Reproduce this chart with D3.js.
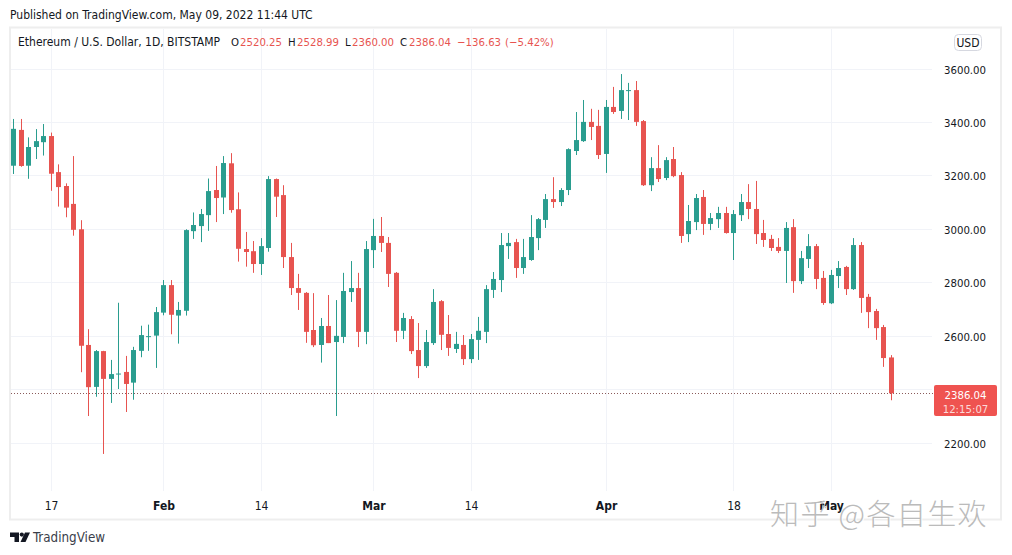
<!DOCTYPE html>
<html>
<head>
<meta charset="utf-8">
<title>ETHUSD</title>
<script src="https://cdn.jsdelivr.net/npm/d3@7"></script>
<style>
  html, body { margin: 0; padding: 0; background: #fff; }
  svg { display: block; }
  text { font-family: "DejaVu Sans Condensed", "DejaVu Sans", sans-serif; font-stretch: condensed; }
</style>
</head>
<body>
<svg id="chart" width="1012" height="555"></svg>
<script>
// Daily candles, 12 Jan 2022 to 9 May 2022
const opens = [3238,3372,3238,3308,3326,3349,3214,3162,3095,3000,2567,2410,2544,2440,2458,2466,2426,2545,2597,2602,
  2688,2791,2677,2695,2993,3012,3053,3147,3119,3247,3075,2926,2918,2870,2930,3188,3128,2896,2780,2762,
  2623,2567,2638,2578,2597,2765,2780,2616,2922,2975,2949,2837,2620,2664,2548,2488,2574,2731,2608,2552,
  2567,2514,2586,2616,2773,2810,2937,2952,2855,2885,2967,3035,3113,3102,3147,3293,3330,3402,3387,3282,
  3458,3443,3518,3521,3405,3165,3229,3192,3263,3203,2982,3027,3121,3020,3038,3061,2986,3053,3102,3076,
  2986,2964,2934,2919,3008,2806,2889,2937,2818,2723,2825,2859,2776,2941,2747,2694,2634,2520.25];
const highs = [3413,3413,3344,3375,3394,3362,3243,3172,3274,3034,2626,2548,2545,2511,2725,2526,2560,2639,2643,2709,
  2810,2810,2728,3000,3063,3076,3190,3237,3274,3285,3138,2990,2956,2967,3199,3190,3165,2949,2833,2765,
  2761,2668,2754,2735,2837,2881,2837,2956,3039,3046,2971,2840,2687,2675,2649,2623,2776,2735,2679,2616,
  2604,2608,2672,2791,2840,2986,2986,2964,2964,3053,3042,3132,3195,3154,3303,3439,3484,3451,3447,3484,
  3533,3581,3548,3555,3409,3270,3315,3270,3308,3214,3091,3132,3147,3061,3084,3084,3072,3132,3169,3181,
  3035,2979,2967,3027,3038,2919,2982,2945,2844,2848,2881,2863,2967,2952,2758,2702,2642,2528.99];
const lows = [3207,3234,3189,3263,3276,3144,3085,3045,2976,2465,2301,2373,2159,2350,2402,2316,2362,2521,2545,2481,
  2678,2607,2572,2677,2964,2952,2994,3027,3057,3062,2879,2860,2837,2829,2916,3046,2855,2754,2698,2575,
  2559,2501,2574,2301,2574,2728,2559,2570,2855,2915,2784,2578,2589,2533,2443,2481,2567,2548,2526,2537,
  2492,2499,2511,2574,2743,2765,2889,2818,2833,2882,2922,3005,3080,3087,3128,3278,3327,3334,3263,3211,
  3432,3413,3409,3387,3162,3143,3177,3184,3195,2949,2952,2997,2979,2997,3005,2984,2885,3031,3038,2945,
  2934,2919,2911,2799,2762,2795,2855,2776,2717,2720,2780,2754,2773,2687,2630,2586,2485,2360];
const closes = [3376,3237,3308,3330,3349,3208,3158,3081,2998,2564,2409,2544,2440,2458,2460,2421,2548,2604,2600,2690,
  2791,2680,2698,2997,3016,3057,3143,3117,3248,3072,2927,2915,2870,2937,3188,3122,2896,2780,2762,2616,
  2566,2638,2574,2601,2769,2780,2616,2926,2975,2949,2833,2620,2668,2544,2488,2578,2728,2605,2556,2571,
  2514,2589,2620,2776,2814,2941,2949,2855,2896,2971,3038,3113,3102,3147,3300,3334,3402,3383,3278,3458,
  3439,3521,3521,3402,3165,3229,3188,3259,3199,2975,3031,3117,3020,3042,3061,2986,3057,3102,3076,2982,
  2960,2930,2919,3005,2806,2892,2937,2814,2724,2829,2855,2776,2941,2743,2690,2630,2518,2386.04];

const priceTicks = [2200, 2400, 2600, 2800, 3000, 3200, 3400, 3600];
const hiddenPriceLabel = 2400; // sits under the last price tag
const timeTicks = ['2022-01-17', '2022-02-01', '2022-02-14', '2022-03-01', '2022-03-14', '2022-04-01', '2022-04-18', '2022-05-01'];
const timeLabels = ['17', 'Feb', '14', 'Mar', '14', 'Apr', '18', 'May'];
const monthLabels = ['Feb', 'Mar', 'Apr', 'May'];

const legendParts = ['O', '2520.25', 'H', '2528.99', 'L', '2360.00', 'C', '2386.04', '−136.63', '(−5.42%)'];

const up = '#2a9d8f', down = '#e75450', tagColor = '#ef5350', gridColor = '#f1f3f8', frameColor = '#eeeeee', ink = '#131722';

const svg = d3.select('#chart');
const parseDay = d3.utcParse('%Y-%m-%d');
const days = d3.utcDay.range(parseDay('2022-01-12'), parseDay('2022-05-10'));

const x = d3.scaleUtc().domain([days[0], days[days.length - 1]]).range([13.5, 891]);
const y = d3.scaleLinear().domain([2200, 3600]).range([443, 69]);
const px = v => Math.round(v - 0.5) + 0.5;

// Frame
svg.append('rect').attr('x', 10).attr('y', 27.5).attr('width', 991).attr('height', 492)
  .attr('fill', 'none').attr('stroke', frameColor).attr('stroke-width', 2);

// Grid
const grid = svg.append('g');
grid.selectAll('.h').data(priceTicks).enter().append('line')
  .attr('x1', 11).attr('x2', 932)
  .attr('y1', d => px(y(d))).attr('y2', d => px(y(d)))
  .attr('stroke', gridColor);
grid.selectAll('.v').data(timeTicks).enter().append('line')
  .attr('x1', d => px(x(parseDay(d)))).attr('x2', d => px(x(parseDay(d))))
  .attr('y1', 29).attr('y2', 491)
  .attr('stroke', gridColor);

// Last price line
const lastY = px(y(closes[closes.length - 1]));
svg.append('line').attr('x1', 11).attr('x2', 934)
  .attr('y1', lastY).attr('y2', lastY)
  .attr('stroke', '#8a5a5a').attr('stroke-dasharray', '1,2');

// Candles
const candles = svg.append('g').selectAll('g').data(days).enter().append('g');
candles.append('line')
  .attr('x1', d => px(x(d))).attr('x2', d => px(x(d)))
  .attr('y1', (d, i) => y(highs[i])).attr('y2', (d, i) => y(lows[i]))
  .attr('stroke', (d, i) => closes[i] >= opens[i] ? up : down);
candles.append('rect')
  .attr('x', d => px(x(d)) - 2.5).attr('width', 5)
  .attr('y', (d, i) => y(Math.max(opens[i], closes[i])))
  .attr('height', (d, i) => Math.max(1, Math.abs(y(opens[i]) - y(closes[i]))))
  .attr('fill', (d, i) => closes[i] >= opens[i] ? up : down);

// Price axis
const yAxis = svg.append('g').attr('transform', 'translate(965,0.5)')
  .call(d3.axisRight(y).tickValues(priceTicks.filter(d => d !== hiddenPriceLabel))
    .tickFormat(d => d.toFixed(2)).tickSize(0).tickPadding(0));
yAxis.select('.domain').remove();
yAxis.selectAll('text').attr('text-anchor', 'middle').attr('fill', ink)
  .style('font-size', '11.3px').style('font-family', '"DejaVu Sans Condensed", "DejaVu Sans", sans-serif');

// Time axis
const xAxis = svg.append('g').attr('transform', 'translate(0,491)')
  .call(d3.axisBottom(x).tickValues(timeTicks.map(parseDay))
    .tickFormat((d, i) => timeLabels[i]).tickSize(0).tickPadding(10));
xAxis.select('.domain').remove();
xAxis.selectAll('text').attr('fill', ink)
  .style('font-size', '12px').style('font-family', '"DejaVu Sans Condensed", "DejaVu Sans", sans-serif')
  .style('font-weight', (d, i) => monthLabels.includes(timeLabels[i]) ? 'bold' : 'normal');

// Last price tag
svg.append('rect').attr('x', 934).attr('y', 385).attr('width', 63).attr('height', 31).attr('rx', 2).attr('fill', tagColor);
svg.append('text').attr('x', 965.5).attr('y', 398.5).attr('text-anchor', 'middle')
  .attr('fill', '#fff').attr('font-size', 11.3).text(closes[closes.length - 1].toFixed(2));
svg.append('text').attr('x', 965.5).attr('y', 412.5).attr('text-anchor', 'middle')
  .attr('fill', '#fff').attr('fill-opacity', 0.8).attr('font-size', 11.3).text('12:15:07');

// Header text
svg.append('text').attr('x', 10).attr('y', 19).attr('fill', ink).attr('font-size', 12)
  .text('Published on TradingView.com, May 09, 2022 11:44 UTC');
svg.append('text').attr('x', 18).attr('y', 46).attr('fill', ink).attr('font-size', 12)
  .text('Ethereum / U.S. Dollar, 1D, BITSTAMP');
const legendX = [231, 240, 288, 297, 345, 352, 400, 409, 457, 505];
svg.selectAll('.legend').data(legendParts).enter().append('text')
  .attr('x', (d, i) => legendX[i]).attr('y', 46).attr('font-size', 11.3)
  .attr('fill', (d, i) => d.length === 1 ? ink : down)
  .text(d => d);

// USD button
svg.append('rect').attr('x', 954.5).attr('y', 34.5).attr('width', 27).attr('height', 16).attr('rx', 4)
  .attr('fill', '#fff').attr('stroke', '#d6d8e0');
svg.append('text').attr('x', 968).attr('y', 46.5).attr('text-anchor', 'middle')
  .attr('fill', ink).attr('font-size', 12).text('USD');

// TradingView logo
const logo = svg.append('g').attr('fill', '#131722');
logo.append('path').attr('d', 'M10 532.5h9v9.5h-4.5v-5H10z');
logo.append('circle').attr('cx', 21.8).attr('cy', 534.6).attr('r', 2.1);
logo.append('path').attr('d', 'M25 532.5h5l-4.5 9.5h-5z');
svg.append('text').attr('x', 33).attr('y', 542).attr('fill', '#3a3e4a').attr('font-size', 13.3).text('TradingView');

// Watermark
const mark = '知乎 @各自生欢';
[['#ffffff', 1, 1], ['#bbbbbb', 0, 0]].forEach(([fill, dx, dy]) => {
  svg.append('text').attr('x', 770 + dx).attr('y', 525 + dy)
    .attr('fill', fill).attr('font-size', 29).attr('font-weight', 300)
    .style('font-family', '"Noto Sans CJK SC", sans-serif')
    .style('font-stretch', 'normal')
    .style('letter-spacing', '1.4px').text(mark);
});
</script>
</body>
</html>
